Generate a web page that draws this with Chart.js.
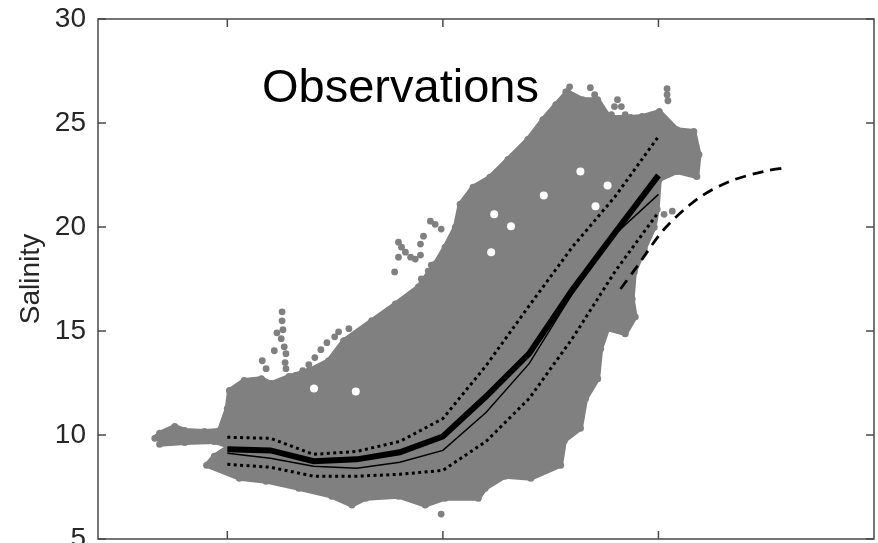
<!DOCTYPE html>
<html>
<head>
<meta charset="utf-8">
<script src="https://cdn.jsdelivr.net/npm/chart.js@4.4.1/dist/chart.umd.min.js"></script>
<style>
    html, body { margin: 0; padding: 0; background: #ffffff; }
    #wrap { width: 878px; height: 543px; }
</style>
</head>
<body>
<div id="wrap"><canvas id="salinityChart" width="878" height="543"></canvas></div>
<script>
// Eje x (sin etiquetas visibles en la imagen): nodos de las curvas
const nodeX = [5, 6, 7, 8, 9, 10, 11, 12, 13, 14, 15];
const xTicks = [5, 10, 15];
const yTicks = [5, 10, 15, 20, 25, 30];

// Curvas negras
const thickLine = [9.31, 9.26, 8.74, 8.83, 9.17, 9.93, 11.85, 13.91, 16.97, 19.75, 22.48];
const thinLine = [9.12, 8.88, 8.50, 8.40, 8.69, 9.26, 11.08, 13.43, 16.78, 19.66, 21.57];
const upperDotted = [9.89, 9.84, 9.07, 9.21, 9.69, 10.79, 13.33, 16.21, 19.03, 21.48, 24.35];
const lowerDotted = [8.59, 8.45, 8.02, 8.02, 8.11, 8.30, 9.69, 11.75, 14.63, 17.88, 20.71];

// Curva discontinua
const dashedX = [14.12, 14.51, 15.13, 15.89, 16.65, 17.44, 17.97];
const dashedY = [17.02, 18.12, 19.89, 21.33, 22.19, 22.67, 22.86];

// Contorno de la nube de observaciones
const cloudX = [3.32, 3.43, 3.78, 4.01, 4.47, 4.82, 5.00, 5.05, 5.39, 5.79, 6.02, 6.43, 6.89, 7.35, 7.70, 8.35, 8.90, 9.43, 9.82, 10.05,
    10.29, 10.40, 10.70, 11.09, 11.51, 11.97, 12.32, 12.62, 12.89, 13.24, 13.59, 13.86, 14.35, 14.62, 15.02, 15.43, 15.82, 15.94, 15.89, 15.43,
    15.02, 14.97, 14.90, 14.67, 14.44, 14.39, 14.46, 14.23, 13.82, 13.66, 13.59, 13.31, 13.19, 12.82, 12.73, 12.04, 11.44, 10.98, 10.82, 10.05,
    9.59, 8.97, 8.21, 7.89, 7.42, 6.66, 5.90, 5.28, 4.52, 4.70, 5.05, 4.70, 4.01, 3.43];
const cloudY = [9.84, 10.08, 10.41, 10.22, 10.17, 10.22, 11.28, 12.14, 12.62, 12.71, 12.47, 12.81, 13.09, 13.57, 14.53, 15.49, 16.30, 17.12, 18.22, 19.03,
    19.99, 21.09, 21.91, 22.39, 23.25, 24.21, 25.16, 25.88, 26.50, 26.12, 26.12, 25.26, 25.26, 25.31, 25.55, 24.68, 24.59, 23.49, 22.43, 22.67,
    22.29, 20.85, 19.99, 18.94, 17.84, 16.54, 15.68, 14.87, 15.11, 14.15, 12.71, 11.75, 10.32, 9.74, 8.55, 7.92, 8.02, 7.44, 6.96, 6.96,
    6.63, 7.06, 6.96, 6.63, 7.06, 7.44, 7.78, 7.92, 8.55, 8.98, 9.45, 9.69, 9.64, 9.55];

// Puntos sueltos en los bordes de la nube
const looseX = [6.27, 6.27, 6.29, 6.25, 6.32, 6.15, 6.09, 6.36, 6.34, 5.81, 5.90, 6.36,
    6.59, 6.75, 6.89, 7.03, 7.17, 7.31, 7.49, 7.58, 7.82,
    8.97, 9.04, 9.13, 9.25, 9.36, 9.48, 9.48, 9.55, 9.71, 9.82, 9.96, 8.97, 8.88, 9.50, 9.66, 9.73,
    12.85, 12.94, 13.42, 13.52,
    13.82, 13.91, 13.98, 14.05, 14.14, 14.23, 14.32,
    15.20, 15.20, 15.22, 15.13, 15.32, 9.96];
const looseY = [15.92, 15.49, 15.06, 14.63, 14.24, 14.91, 14.05, 13.91, 13.48, 13.57, 13.19, 13.19,
    12.86, 13.09, 13.38, 13.72, 14.10, 14.44, 14.72, 14.96, 15.11,
    19.27, 19.03, 18.79, 18.55, 18.46, 18.65, 19.18, 19.56, 20.28, 20.13, 19.90, 18.55, 17.84, 17.50, 17.88, 18.17,
    26.50, 26.74, 26.70, 26.36,
    25.02, 25.40, 25.79, 26.12, 25.79, 25.40, 25.07,
    26.65, 26.36, 26.07, 20.61, 20.76, 6.20];

// Huecos blancos dentro de la nube
const gapX = [7.01, 7.98, 12.34, 13.54, 13.82, 13.19, 11.12, 11.19, 11.58];
const gapY = [12.23, 12.09, 21.52, 21.00, 22.00, 22.67, 18.79, 20.61, 20.04];

const GREY = '#808080';
const FONT = "'Liberation Sans', Arial, sans-serif";

function pairs(xs, ys) {
    return xs.map((x, i) => ({ x: x, y: ys[i] }));
}

// Marco con marcas hacia dentro (estilo MATLAB) y título interior
const framePlugin = {
    id: 'frame',
    afterDraw(chart) {
        const ctx = chart.ctx;
        const a = chart.chartArea;
        const xs = chart.scales.x;
        const ys = chart.scales.y;
        const len = 8;
        ctx.save();
        ctx.strokeStyle = '#4a4a4a';
        ctx.lineWidth = 1.5;
        ctx.strokeRect(a.left, a.top, a.right - a.left, a.bottom - a.top);
        ctx.beginPath();
        xTicks.forEach(v => {
            const px = xs.getPixelForValue(v);
            ctx.moveTo(px, a.bottom); ctx.lineTo(px, a.bottom - len);
            ctx.moveTo(px, a.top); ctx.lineTo(px, a.top + len);
        });
        yTicks.forEach(v => {
            const py = ys.getPixelForValue(v);
            ctx.moveTo(a.left, py); ctx.lineTo(a.left + len, py);
            ctx.moveTo(a.right, py); ctx.lineTo(a.right - len, py);
        });
        ctx.stroke();

        ctx.fillStyle = '#000000';
        ctx.font = '47px ' + FONT;
        ctx.textBaseline = 'alphabetic';
        ctx.fillText('Observations', 262, 102);
        ctx.restore();
    }
};

const ctx = document.getElementById('salinityChart').getContext('2d');
new Chart(ctx, {
    type: 'scatter',
    data: {
        datasets: [
            {
                label: 'Media',
                data: pairs(nodeX, thickLine),
                showLine: true,
                borderColor: '#000000',
                borderWidth: 6,
                pointRadius: 0,
                order: 0
            },
            {
                label: 'Mediana',
                data: pairs(nodeX, thinLine),
                showLine: true,
                borderColor: '#000000',
                borderWidth: 1.5,
                pointRadius: 0,
                order: 1
            },
            {
                label: 'Superior',
                data: pairs(nodeX, upperDotted),
                showLine: true,
                borderColor: '#000000',
                borderWidth: 3,
                borderDash: [3, 3.4],
                pointRadius: 0,
                order: 2
            },
            {
                label: 'Inferior',
                data: pairs(nodeX, lowerDotted),
                showLine: true,
                borderColor: '#000000',
                borderWidth: 3,
                borderDash: [3, 3.4],
                pointRadius: 0,
                order: 3
            },
            {
                label: 'Modelo',
                data: pairs(dashedX, dashedY),
                showLine: true,
                borderColor: '#000000',
                borderWidth: 2.8,
                borderDash: [11, 7],
                tension: 0.3,
                pointRadius: 0,
                order: 4
            },
            {
                label: 'Huecos',
                data: pairs(gapX, gapY),
                backgroundColor: '#ffffff',
                borderWidth: 0,
                pointRadius: 4,
                order: 8
            },
            {
                label: 'Observaciones sueltas',
                data: pairs(looseX, looseY),
                backgroundColor: GREY,
                borderWidth: 0,
                pointRadius: 3.4,
                order: 9
            },
            {
                label: 'Observaciones',
                data: pairs(cloudX, cloudY),
                showLine: true,
                fill: 'shape',
                backgroundColor: GREY,
                borderColor: GREY,
                borderWidth: 5,
                borderJoinStyle: 'round',
                pointRadius: 3.5,
                pointBackgroundColor: GREY,
                pointBorderWidth: 0,
                order: 10
            }
        ]
    },
    options: {
        responsive: false,
        animation: false,
        events: [],
        layout: { padding: { top: 19, right: 1, bottom: 2, left: 0 } },
        plugins: {
            legend: { display: false },
            tooltip: { enabled: false },
            filler: { propagate: false }
        },
        scales: {
            x: {
                type: 'linear',
                display: false,
                min: 2,
                max: 20
            },
            y: {
                type: 'linear',
                min: 5,
                max: 30,
                grid: { display: false, drawTicks: false },
                border: { display: false },
                ticks: {
                    stepSize: 5,
                    padding: 12,
                    color: '#262626',
                    font: { family: FONT, size: 28 }
                },
                title: {
                    display: true,
                    text: 'Salinity',
                    color: '#262626',
                    font: { family: FONT, size: 28 },
                    padding: { top: 14, bottom: 0 }
                },
                afterFit: function(scale) {
                    scale.width = 98;
                    scale.paddingTop = 0;
                    scale.paddingBottom = 0;
                }
            }
        }
    },
    plugins: [framePlugin]
});
</script>
</body>
</html>
